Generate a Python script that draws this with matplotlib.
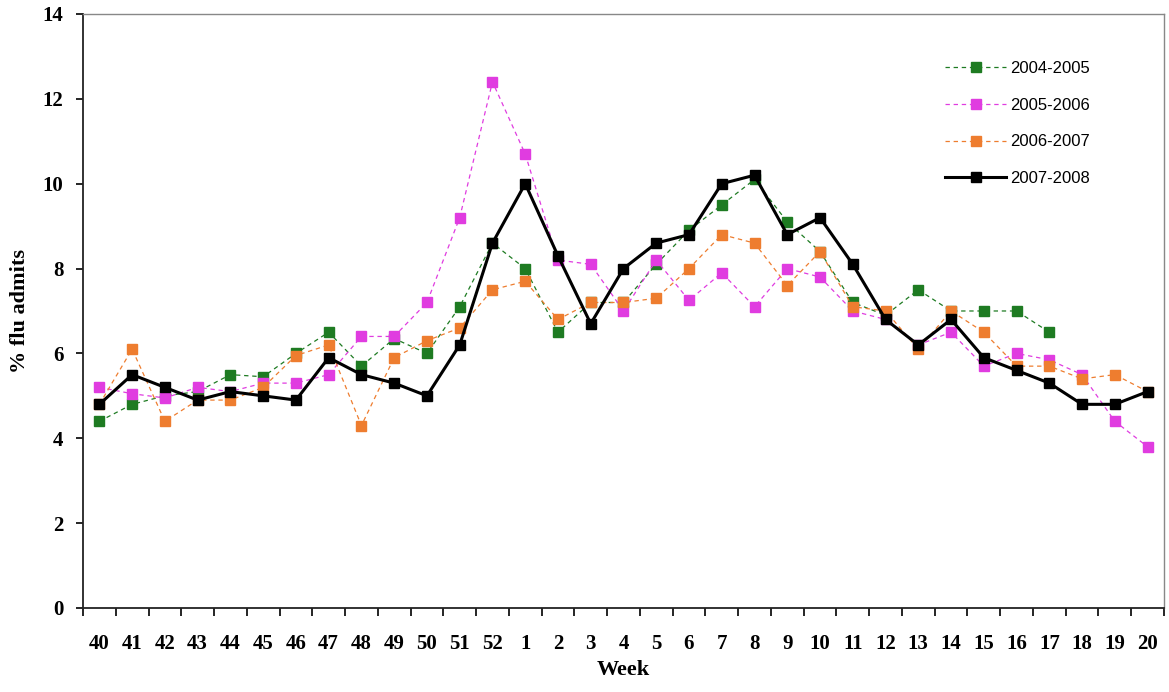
import matplotlib
matplotlib.use('Agg')
import matplotlib.pyplot as plt
from matplotlib.ticker import FixedLocator, NullFormatter

weeks = ['40', '41', '42', '43', '44', '45', '46', '47', '48', '49', '50', '51', '52',
         '1', '2', '3', '4', '5', '6', '7', '8', '9', '10', '11', '12', '13', '14',
         '15', '16', '17', '18', '19', '20']

flu_2004_2005 = [4.4, 4.8, 5.0, 5.1, 5.5, 5.45, 6.0, 6.5, 5.7, 6.35, 6.0, 7.1, 8.6,
                 8.0, 6.5, 7.2, 7.2, 8.1, 8.9, 9.5, 10.1, 9.1, 8.4, 7.2, 6.9, 7.5, 7.0,
                 7.0, 7.0, 6.5]
flu_2005_2006 = [5.2, 5.05, 4.95, 5.2, 5.1, 5.3, 5.3, 5.5, 6.4, 6.4, 7.2, 9.2, 12.4,
                 10.7, 8.2, 8.1, 7.0, 8.2, 7.25, 7.9, 7.1, 8.0, 7.8, 7.0, 6.8, 6.2, 6.5,
                 5.7, 6.0, 5.85, 5.5, 4.4, 3.8]
flu_2006_2007 = [4.8, 6.1, 4.4, 4.9, 4.9, 5.2, 5.95, 6.2, 4.3, 5.9, 6.3, 6.6, 7.5,
                 7.7, 6.8, 7.2, 7.2, 7.3, 8.0, 8.8, 8.6, 7.6, 8.4, 7.1, 7.0, 6.1, 7.0,
                 6.5, 5.7, 5.7, 5.4, 5.5, 5.1]
flu_2007_2008 = [4.8, 5.5, 5.2, 4.9, 5.1, 5.0, 4.9, 5.9, 5.5, 5.3, 5.0, 6.2, 8.6,
                 10.0, 8.3, 6.7, 8.0, 8.6, 8.8, 10.0, 10.2, 8.8, 9.2, 8.1, 6.8, 6.2, 6.8,
                 5.9, 5.6, 5.3, 4.8, 4.8, 5.1]

serif = ['Liberation Serif', 'DejaVu Serif']

fig = plt.figure(figsize=(11.69, 6.92), dpi=100)
ax = fig.add_axes([0.071, 0.1214, 0.9247, 0.8584])

x = list(range(len(weeks)))
dash_kw = dict(linestyle=(0, (3.5, 3)), linewidth=0.9, marker='s', markersize=6.5)
ax.plot(x[:len(flu_2004_2005)], flu_2004_2005, color='#1e7b22', label='2004-2005', **dash_kw)
ax.plot(x, flu_2005_2006, color='#e03ce0', label='2005-2006', **dash_kw)
ax.plot(x, flu_2006_2007, color='#ee7d2f', label='2006-2007', **dash_kw)
ax.plot(x, flu_2007_2008, color='black', linewidth=2.2, marker='s', markersize=6.5,
        label='2007-2008')

ax.set_xlim(-0.5, len(weeks) - 0.5)
ax.set_ylim(0, 14)
ax.set_yticks(range(0, 15, 2))

# category ticks between weeks, labels centred
ax.xaxis.set_major_locator(FixedLocator([i - 0.5 for i in range(len(weeks) + 1)]))
ax.xaxis.set_major_formatter(NullFormatter())
ax.xaxis.set_minor_locator(FixedLocator(x))
ax.set_xticklabels(weeks, minor=True)
ax.tick_params(axis='x', which='major', direction='out', length=6, width=1.2)
ax.tick_params(axis='x', which='minor', length=0, pad=19)
ax.tick_params(axis='y', direction='out', length=5, width=1.2, pad=9)

for lbl in ax.get_xticklabels(minor=True) + ax.get_yticklabels():
    lbl.set_fontfamily(serif)
    lbl.set_fontweight('bold')
    lbl.set_fontsize(15)

ax.set_xlabel('Week', fontfamily=serif, fontweight='bold', fontsize=16, labelpad=4)
ax.set_ylabel('% flu admits', fontfamily=serif, fontweight='bold', fontsize=16, labelpad=9)

for side in ['left', 'bottom']:
    ax.spines[side].set_linewidth(1.3)
    ax.spines[side].set_color('#222222')
for side in ['top', 'right']:
    ax.spines[side].set_linewidth(1.0)
    ax.spines[side].set_color('#888888')

leg = ax.legend(loc='upper right', bbox_to_anchor=(0.945, 0.946), frameon=False,
                handlelength=3.7, labelspacing=1.3, handletextpad=0.2,
                prop={'family': ['Liberation Sans', 'DejaVu Sans'], 'size': 12})

fig.savefig('out.png', dpi=100)
